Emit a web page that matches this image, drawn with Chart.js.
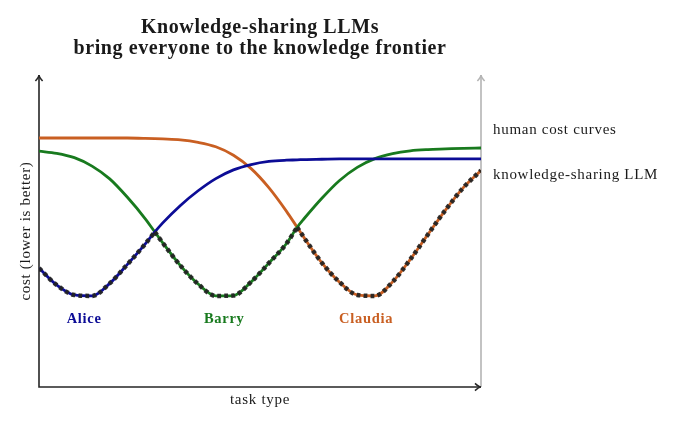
<!DOCTYPE html>
<html>
<head>
<meta charset="utf-8">
<script src="https://cdn.jsdelivr.net/npm/chart.js@4/dist/chart.umd.min.js"></script>
<style>
  html, body { margin: 0; padding: 0; background: #fff; }
  #wrap { width: 680px; height: 431px; }
</style>
</head>
<body>
<div id="wrap"><canvas id="costChart" width="680" height="431"></canvas></div>
<script>
// task type positions (0..100 along the axis)
const taskType = [0, 4, 8, 12, 16, 20, 24, 26.2, 28, 32, 36, 40, 44, 48, 52, 56, 58.4, 60, 64, 68, 72, 76, 80, 84, 88, 92, 96, 100];

// human cost curves (0..10, lower is better)
const aliceCost = [3.81, 3.27, 2.95, 2.92, 3.32, 3.93, 4.58, 4.97, 5.26, 5.82, 6.29, 6.68, 6.96, 7.13, 7.23, 7.27, 7.28, 7.29, 7.30, 7.31, 7.31, 7.31, 7.31, 7.31, 7.31, 7.31, 7.31, 7.31];
const barryCost = [7.56, 7.49, 7.35, 7.08, 6.67, 6.08, 5.40, 4.97, 4.62, 3.89, 3.30, 2.92, 2.93, 3.37, 3.97, 4.60, 5.12, 5.40, 6.05, 6.62, 7.04, 7.32, 7.48, 7.57, 7.61, 7.63, 7.65, 7.66];
const claudiaCost = [7.98, 7.98, 7.98, 7.98, 7.98, 7.98, 7.97, 7.96, 7.95, 7.92, 7.84, 7.70, 7.43, 7.00, 6.39, 5.63, 5.12, 4.78, 3.98, 3.36, 2.95, 2.92, 3.37, 4.09, 4.89, 5.68, 6.39, 6.94];

const names = ['Alice', 'Barry', 'Claudia'];
const titleLines = ['Knowledge-sharing LLMs', 'bring everyone to the knowledge frontier'];
const xLabel = 'task type';
const yLabel = 'cost (lower is better)';
const sideLabels = ['human cost curves', 'knowledge-sharing LLM'];

const colors = ['#0c0c96', '#187a1e', '#c95f22'];
const nameX = [10.2, 41.9, 74];
const nameY = 2.05;

const curves = [aliceCost, barryCost, claudiaCost];
// the LLM follows whoever is cheapest at each task type
const llmCost = taskType.map((_, i) => Math.min(...curves.map(c => c[i])));

const datasets = [];
curves.forEach((c, k) => {
    datasets.push({
        label: names[k] + ' (LLM)',
        data: taskType.map((x, i) => ({ x: x, y: Math.abs(c[i] - llmCost[i]) < 1e-6 ? llmCost[i] : null })),
        borderColor: 'rgba(34,34,34,0.93)',
        borderWidth: 4.5,
        borderDash: [3.8, 3.2],
        pointRadius: 0,
        spanGaps: false,
        cubicInterpolationMode: 'monotone',
        order: 1
    });
});
curves.forEach((c, k) => {
    datasets.push({
        label: names[k],
        data: taskType.map((x, i) => ({ x: x, y: c[i] })),
        borderColor: colors[k],
        borderWidth: 2.8,
        pointRadius: 0,
        cubicInterpolationMode: 'monotone',
        order: 2
    });
});

function arrowHead(ctx, x, y, dx, dy) {
    const len = 6, half = 3.6;
    const bx = x - dx * len, by = y - dy * len;
    const px = -dy * half, py = dx * half;
    const cx = x - dx * len * 0.35, cy = y - dy * len * 0.35;
    ctx.beginPath();
    ctx.moveTo(bx + px, by + py);
    ctx.quadraticCurveTo(cx, cy, x, y);
    ctx.quadraticCurveTo(cx, cy, bx - px, by - py);
    ctx.stroke();
}

const decorations = {
    id: 'decorations',
    beforeDatasetsDraw(chart) {
        const { ctx, chartArea: a } = chart;
        ctx.save();
        ctx.lineWidth = 1.6;
        // gray right-hand axis
        ctx.strokeStyle = '#b4b4b4';
        ctx.beginPath();
        ctx.moveTo(a.right, a.bottom);
        ctx.lineTo(a.right, a.top);
        ctx.stroke();
        arrowHead(ctx, a.right, a.top, 0, -1);
        // main axes
        ctx.strokeStyle = '#262626';
        ctx.beginPath();
        ctx.moveTo(a.left, a.top);
        ctx.lineTo(a.left, a.bottom);
        ctx.lineTo(a.right, a.bottom);
        ctx.stroke();
        arrowHead(ctx, a.left, a.top, 0, -1);
        arrowHead(ctx, a.right, a.bottom, 1, 0);
        ctx.restore();
    },
    afterDraw(chart) {
        const { ctx, chartArea: a, scales } = chart;
        const midX = (a.left + a.right) / 2;
        ctx.save();
        ctx.fillStyle = '#1a1a1a';
        ctx.textAlign = 'center';
        ctx.textBaseline = 'alphabetic';
        ctx.font = 'bold 20px "Liberation Serif", serif';
        ctx.letterSpacing = '0.6px';
        ctx.fillText(titleLines[0], midX, 33);
        ctx.fillText(titleLines[1], midX, 54);

        ctx.font = '15px "Liberation Serif", serif';
        ctx.letterSpacing = '0.7px';
        ctx.fillText(xLabel, midX, a.bottom + 17);

        ctx.textAlign = 'left';
        ctx.fillText(sideLabels[0], a.right + 12, 134);
        ctx.fillText(sideLabels[1], a.right + 12, 179);

        ctx.save();
        ctx.translate(26, (a.top + a.bottom) / 2);
        ctx.rotate(-Math.PI / 2);
        ctx.textAlign = 'center';
        ctx.textBaseline = 'middle';
        ctx.fillText(yLabel, 0, 0);
        ctx.restore();

        ctx.font = 'bold 14.5px "Liberation Serif", serif';
        ctx.letterSpacing = '0.7px';
        ctx.textAlign = 'center';
        names.forEach((n, k) => {
            ctx.fillStyle = colors[k];
            ctx.fillText(n, scales.x.getPixelForValue(nameX[k]), scales.y.getPixelForValue(nameY));
        });
        ctx.restore();
    }
};

new Chart(document.getElementById('costChart').getContext('2d'), {
    type: 'line',
    data: { datasets: datasets },
    options: {
        responsive: false,
        animation: false,
        layout: { padding: { left: 39, right: 199, top: 75, bottom: 44 } },
        plugins: {
            legend: { display: false },
            tooltip: { enabled: false },
            title: { display: false }
        },
        scales: {
            x: { type: 'linear', min: 0, max: 100, display: false },
            y: { min: 0, max: 10, display: false }
        }
    },
    plugins: [decorations]
});
</script>
</body>
</html>
